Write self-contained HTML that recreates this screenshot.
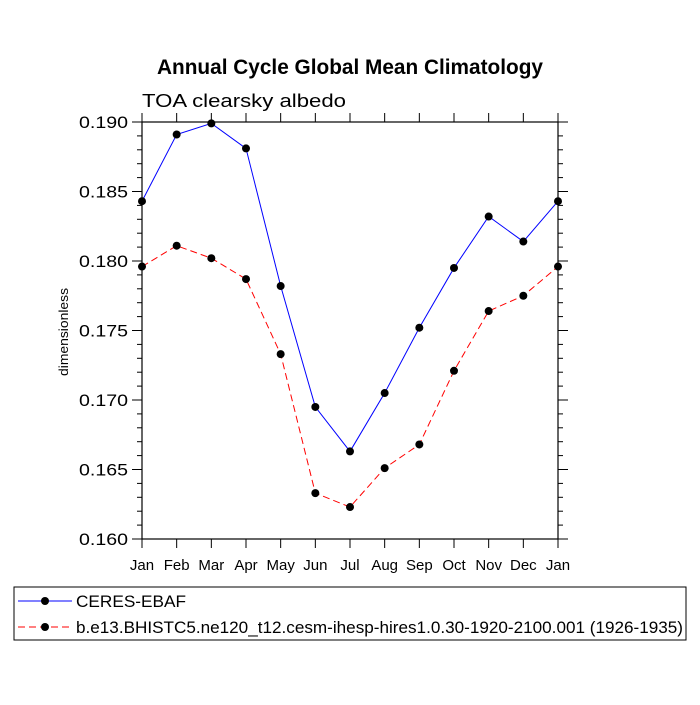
<!DOCTYPE html>
<html><head><meta charset="utf-8"><style>
body{margin:0;background:#fff;}
svg text{font-family:"Liberation Sans",sans-serif;}
</style></head><body>
<svg id="chart" width="700" height="700" xmlns="http://www.w3.org/2000/svg">
<rect width="700" height="700" fill="#fff"/>
<text x="157" y="74" font-size="21" font-weight="bold" textLength="386" lengthAdjust="spacingAndGlyphs">Annual Cycle Global Mean Climatology</text>
<text x="142" y="107" font-size="18" textLength="204" lengthAdjust="spacingAndGlyphs">TOA clearsky albedo</text>
<text transform="translate(68,332) rotate(-90)" text-anchor="middle" font-size="13" textLength="88" lengthAdjust="spacingAndGlyphs">dimensionless</text>
<g id="axes"></g>
<g id="series"></g>
<rect x="14" y="587" width="672" height="53" fill="none" stroke="#000" stroke-width="1"/>
<g>
<line x1="18" y1="601" x2="72" y2="601" stroke="#00f" stroke-width="1"/>
<circle cx="45" cy="601" r="4" fill="#000"/>
<text x="76" y="607" font-size="17" textLength="110" lengthAdjust="spacingAndGlyphs">CERES-EBAF</text>
</g>
<g>
<line x1="18" y1="627" x2="72" y2="627" stroke="#f00" stroke-width="1" stroke-dasharray="7,4"/>
<circle cx="45" cy="627" r="4" fill="#000"/>
<text x="76" y="633" font-size="17" textLength="607" lengthAdjust="spacingAndGlyphs">b.e13.BHISTC5.ne120_t12.cesm-ihesp-hires1.0.30-1920-2100.001 (1926-1935)</text>
</g>
</svg>
<script>
const months = ["Jan","Feb","Mar","Apr","May","Jun","Jul","Aug","Sep","Oct","Nov","Dec","Jan"];
const ceresValues = [0.1843,0.1891,0.1899,0.1881,0.1782,0.1695,0.1663,0.1705,0.1752,0.1795,0.1832,0.1814,0.1843];
const modelValues = [0.1796,0.1811,0.1802,0.1787,0.1733,0.1633,0.1623,0.1651,0.1668,0.1721,0.1764,0.1775,0.1796];
const yTicks = [0.160,0.165,0.170,0.175,0.180,0.185,0.190];

const NS="http://www.w3.org/2000/svg";
const L=142,R=558,T=122,B=539,yMin=0.160,yMax=0.190;
const xs=i=>L+(R-L)*i/(months.length-1);
const ys=v=>B-(B-T)*(v-yMin)/(yMax-yMin);
function mk(tag,attrs,parent){const e=document.createElementNS(NS,tag);for(const k in attrs)e.setAttribute(k,attrs[k]);parent.appendChild(e);return e;}
const ax=document.getElementById('axes');
const frame=mk('rect',{x:L,y:T,width:R-L,height:B-T,fill:'none',stroke:'#000','stroke-width':1.2},ax);


months.forEach((m,i)=>{
  const x=xs(i);
  mk('line',{x1:x,y1:B,x2:x,y2:B+9,stroke:'#000','stroke-width':1},ax);
  mk('line',{x1:x,y1:T,x2:x,y2:T-9,stroke:'#000','stroke-width':1},ax);
  const t=mk('text',{x:x,y:B+31,'text-anchor':'middle','font-size':15},ax);
  t.textContent=m;
  
  
});
for(let k=0;k<yTicks.length;k++){
  const y=ys(yTicks[k]);
  mk('line',{x1:L-10,y1:y,x2:L,y2:y,stroke:'#000','stroke-width':1},ax);
  mk('line',{x1:R,y1:y,x2:R+10,y2:y,stroke:'#000','stroke-width':1},ax);
  const t=mk('text',{x:79,y:y+6,'font-size':17,textLength:49,lengthAdjust:'spacingAndGlyphs'},ax);
  t.textContent=yTicks[k].toFixed(3);
  
  
  if(k<yTicks.length-1){
    for(let j=1;j<5;j++){
      const yy=ys(yTicks[k]+(yTicks[k+1]-yTicks[k])*j/5);
      mk('line',{x1:L-5,y1:yy,x2:L,y2:yy,stroke:'#000','stroke-width':1},ax);
      mk('line',{x1:R,y1:yy,x2:R+5,y2:yy,stroke:'#000','stroke-width':1},ax);
    }
  }
}
const sg=document.getElementById('series');
function draw(vals,color,dash,name){
  const pts=vals.map((v,i)=>xs(i)+','+ys(v)).join(' ');
  const pl=mk('polyline',{points:pts,fill:'none',stroke:color,'stroke-width':1,'stroke-dasharray':dash},sg);
  
  
  vals.forEach((v,i)=>{
    const c=mk('circle',{cx:xs(i),cy:ys(v),r:4,fill:'#000'},sg);
    
    
  });
}
draw(ceresValues,'#00f','none','ceres');
draw(modelValues,'#f00','7,4','model');
</script>
</body></html>
